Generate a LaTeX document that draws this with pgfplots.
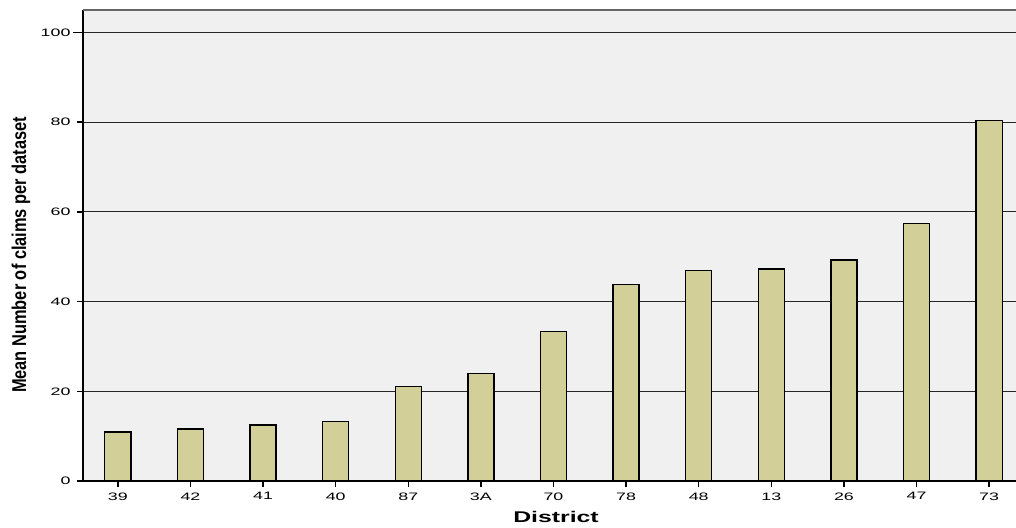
\documentclass[border=0pt]{standalone}
\usepackage{pgfplots}
\pgfplotsset{compat=1.18}
\usepackage{fontspec}
\setmainfont{Liberation Sans}
\newfontfamily\narrowbold[FakeStretch=0.82]{Liberation Sans Bold}
\newfontfamily\widefont[FakeStretch=1.65]{Liberation Sans}
\newfontfamily\widebold[FakeStretch=1.6]{Liberation Sans Bold}
\definecolor{barfill}{HTML}{D3CF98}
\definecolor{plotbg}{HTML}{F0F0F0}
\begin{document}
\begin{tikzpicture}
\useasboundingbox (-83pt,-46pt) rectangle (933pt,481pt);
\begin{axis}[
    at={(0,0)}, anchor=south west,
    scale only axis,
    width=933pt, height=471pt,
    xmin=-0.48, xmax=12.37,
    ymin=0, ymax=105,
    axis x line*=bottom,
    axis y line*=left,
    axis line style={black, line width=1.5pt, -},
    axis background/.style={fill=plotbg},
    ytick={0,20,40,60,80,100},
    xtick={0,...,12},
    xticklabels={39,42,41,40,87,3A,70,78,48,13,26,47,73},
    tick style={black, line width=1.3pt},
    tick align=outside,
    major tick length=6pt,
    ytick style={shorten <=-4pt},
    ymajorgrids,
    grid style={black!85, line width=0.9pt},
    tick label style={font=\widefont\fontsize{10.8}{12}\selectfont},
    /pgf/number format/assume math mode=true,
    yticklabel style={xshift=-3pt},
    xticklabel style={yshift=-2pt},
    xlabel={District},
    xlabel style={font=\widebold\fontsize{15.5}{17}\selectfont, at={(ticklabel cs:0.507)}, yshift=-4pt},
    ylabel={Mean Number of claims per dataset},
    ylabel style={font=\narrowbold\fontsize{20}{22}\selectfont, at={(axis description cs:-0.0665,0.48)}, anchor=center},
    clip=false,
]
\addplot[ybar, bar width=0.36, fill=barfill, draw=black, line width=1.4pt] coordinates {
    (0,10.9) (1,11.6) (2,12.5) (3,13.2) (4,21.0) (5,23.9) (6,33.3)
    (7,43.75) (8,46.9) (9,47.3) (10,49.3) (11,57.4) (12,80.4)
};
\draw[black!60, line width=1.5pt] (rel axis cs:0,1) -- (rel axis cs:1,1);
\end{axis}
\end{tikzpicture}
\end{document}
